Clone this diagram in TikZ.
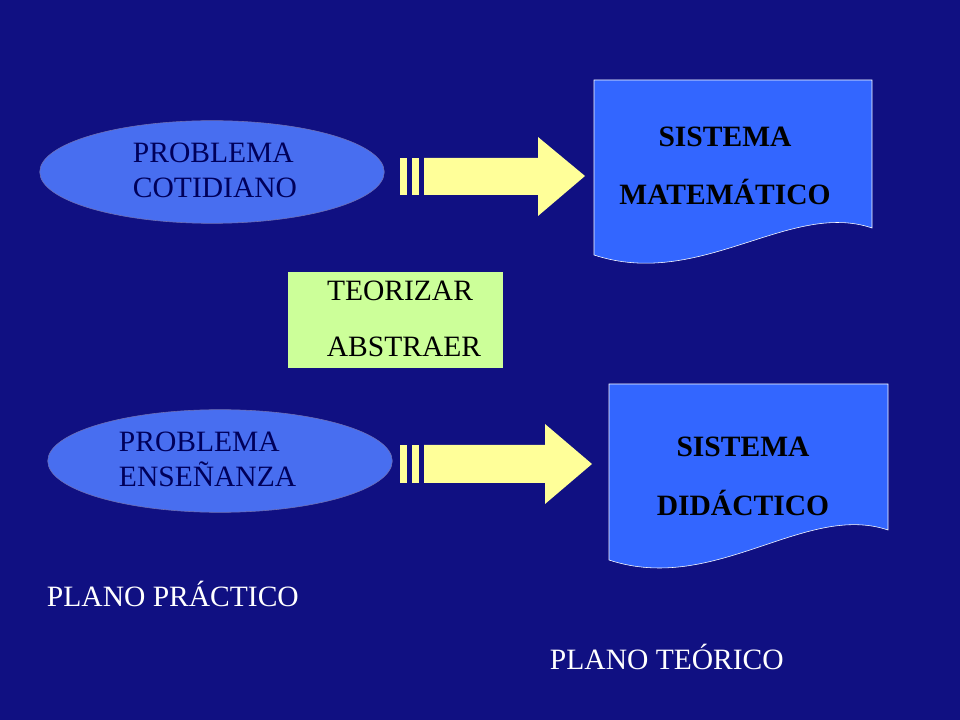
\documentclass[tikz,border=0pt]{standalone}
\usepackage{fontspec}
\setmainfont{Liberation Serif}
\usetikzlibrary{positioning,shapes.geometric}
\definecolor{bgblue}{RGB}{16,16,130}
\definecolor{ellblue}{RGB}{72,110,240}
\definecolor{docblue}{RGB}{51,102,255}
\definecolor{arrowyellow}{RGB}{255,255,153}
\definecolor{boxgreen}{RGB}{204,255,153}
\definecolor{navytext}{RGB}{0,0,90}

\begin{document}
\begin{tikzpicture}
[x=0.025cm, y=-0.025cm,
    every node/.style={font=\fontsize{21}{25}\selectfont},
    problema/.style={ellipse, inner sep=0pt, fill=ellblue, draw=bgblue!60, minimum width=245pt, minimum height=73pt},
    ptext/.style={text=navytext, align=left, anchor=west},
    dtext/.style={text=black, font=\fontsize{21}{25}\selectfont\bfseries},
    flecha/.style={fill=arrowyellow, draw=none},
    doc/.style={fill=docblue, draw=white!70, thin},
    ]
    % fondo
    \fill[bgblue] (0,0) rectangle (960,720);
    \useasboundingbox (0,0) rectangle (960,720);

    % fila superior
    \node[problema] (cotid) at (212,172) {};
    \node[ptext] (cotidtxt) at (128,170) {PROBLEMA\\COTIDIANO};
    \foreach \x in {400,412} \fill[flecha] (\x,158) rectangle +(7,37);
    \fill[flecha] (424,158) -- (538,158) -- (538,137) -- (585,176) -- (538,216)
        -- (538,195) -- (424,195) -- cycle;
    \draw[doc] (594,80) -- (872,80) -- (872,228) .. controls (790,200) and (700,290) .. (594,255) -- cycle;
    \node[dtext] (mat1) at (725,137) {SISTEMA};
    \node[dtext] (mat2) at (725,192) {MATEMÁTICO};

    % caja central
    \fill[boxgreen] (288,272) rectangle (503,368);
    \node (teo) at (400,291) {TEORIZAR};
    \node (abs) at (404,347) {ABSTRAER};

    % fila inferior
    \node[problema] (ense) at (220,461) {};
    \node[ptext] (ensetxt) at (114,459) {PROBLEMA\\ENSEÑANZA};
    \foreach \x in {400,412} \fill[flecha] (\x,445) rectangle +(7,38);
    \fill[flecha] (424,445) -- (545,445) -- (545,424) -- (592,464) -- (545,504)
        -- (545,483) -- (424,483) -- cycle;
    \draw[doc] (609,384) -- (888,384) -- (888,530) .. controls (805,502) and (715,595) .. (609,560) -- cycle;
    \node[dtext] (did1) at (743,447) {SISTEMA};
    \node[dtext] (did2) at (743,503) {DIDÁCTICO};

    % planos
    \node[text=white, anchor=west] (pract) at (42,594) {PLANO PRÁCTICO};
    \node[text=white, anchor=west] (teor) at (545,657) {PLANO TEÓRICO};
\end{tikzpicture}
\end{document}
